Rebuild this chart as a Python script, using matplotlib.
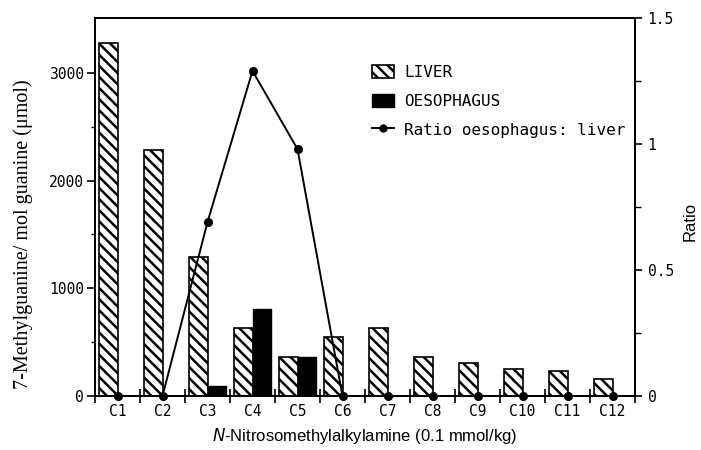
import numpy as np
import matplotlib.pyplot as plt
from matplotlib.patches import Patch
from matplotlib.lines import Line2D

# Data
categories = ["C1", "C2", "C3", "C4", "C5", "C6", "C7", "C8", "C9", "C10", "C11", "C12"]
liver = [3280, 2285, 1295, 635, 365, 545, 635, 360, 310, 250, 235, 160]
oesophagus = [0, 0, 93, 812, 358, 0, 0, 0, 0, 0, 0, 0]
ratio = [0, 0, 0.69, 1.29, 0.98, 0, 0, 0, 0, 0, 0, 0]

mono = "DejaVu Sans Mono"
plt.rcParams["hatch.linewidth"] = 1.8

fig = plt.figure(figsize=(7.01, 4.5), dpi=100)
ax = fig.add_axes([95 / 701, 1 - 396 / 450, 540 / 701, 378 / 450])

x = np.arange(1, len(categories) + 1)
w = 0.41
ax.bar(x - w / 2, liver, width=w, color="white", edgecolor="black",
       hatch="\\\\\\", linewidth=1.2)
ax.bar(x + w / 2, oesophagus, width=w, color="black", edgecolor="black", linewidth=1)

ax.set_xlim(0.5, 12.5)
ax.set_ylim(0, 3510)
ax.set_xticks(np.arange(0.5, 12.6, 1))
ax.set_xticklabels([])
ax.set_xticks(x, categories, minor=True)
ax.tick_params(axis="x", which="major", direction="inout", length=10, width=1.2)
ax.tick_params(axis="x", which="minor", length=0, pad=6, labelsize=10.5)
ax.set_yticks([0, 1000, 2000, 3000])
ax.set_yticks([500, 1500, 2500], minor=True)
ax.tick_params(axis="y", which="major", direction="out", length=6, width=1.2, pad=2, labelsize=10.5)
ax.tick_params(axis="y", which="minor", direction="out", length=3, width=1)
for lab in ax.get_xticklabels(minor=True) + ax.get_yticklabels():
    lab.set_family(mono)
for s in ax.spines.values():
    s.set_linewidth(1.4)

ax2 = ax.twinx()
ax2.plot(x, ratio, color="black", linewidth=1.4, marker="o", markersize=5.5, clip_on=False)
ax2.set_ylim(0, 1.5)
ax2.set_yticks([0, 0.5, 1, 1.5])
ax2.set_yticklabels(["0", "0.5", "1", "1.5"])
ax2.set_yticks([0.25, 0.75, 1.25], minor=True)
ax2.tick_params(axis="y", which="major", direction="out", length=5, width=1.2, pad=4, labelsize=10.5)
ax2.tick_params(axis="y", which="minor", direction="out", length=4, width=1)
for lab in ax2.get_yticklabels():
    lab.set_family(mono)
for s in ax2.spines.values():
    s.set_linewidth(1.4)

fig.text(23 / 701, 1 - 234 / 450, "7-Methylguanine/ mol guanine (\u03bcmol)",
         family="Liberation Serif", fontsize=14.5, rotation=90, ha="center", va="center")
fig.text(690 / 701, 1 - 221 / 450, "Ratio", family="Liberation Sans", fontsize=12,
         rotation=90, ha="center", va="center")
fig.text(365 / 701, 1 - 436 / 450, "$\\mathit{N}$-Nitrosomethylalkylamine (0.1 mmol/kg)",
         family="Liberation Sans", fontsize=12, ha="center", va="center")

handles = [
    Patch(facecolor="white", edgecolor="black", hatch="\\\\\\", linewidth=1.2),
    Patch(facecolor="black", edgecolor="black"),
    Line2D([], [], color="black", marker="o", markersize=5, linewidth=1.4),
]
ax2.legend(handles, ["LIVER", "OESOPHAGUS", "Ratio oesophagus: liver"],
           loc="upper left", bbox_to_anchor=(364 / 701, 1 - 57 / 450),
           bbox_transform=fig.transFigure, frameon=False, borderpad=0,
           handlelength=1.4, handleheight=0.9, handletextpad=0.6, labelspacing=0.85,
           prop={"family": mono, "size": 11.5})

fig.savefig("out.png", dpi=100)
